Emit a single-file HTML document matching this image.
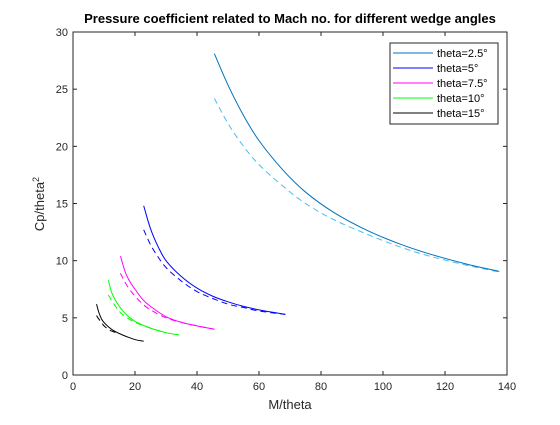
<!DOCTYPE html>
<html><head><meta charset="utf-8"><style>
body{margin:0;background:#fff;}
svg{font-family:"Liberation Sans",Arial,sans-serif;}
</style></head><body>
<svg id="c" width="560" height="420" xmlns="http://www.w3.org/2000/svg">
<rect x="0" y="0" width="560" height="420" fill="#fff"/>
<g id="plot"></g>
</svg>
<script>
const xTicks=[0,20,40,60,80,100,120,140];
const yTicks=[0,5,10,15,20,25,30];
const seriesNames=["theta=2.5°","theta=5°","theta=7.5°","theta=10°","theta=15°"];
const solidX25=[45.6,50,55,60,67.8,75,84,95,105.5,115,127,137.5];
const solidY25=[28.1,25.36,22.7,20.5,17.9,16.0,14.24,12.63,11.45,10.59,9.7,9.06];
const dashX25=[45.6,50,55,60,67.8,75,84,95,105.5,115,127,137.5];
const dashY25=[24.2,22.0,20.0,18.4,16.5,15.0,13.6,12.3,11.2,10.4,9.6,9.0];
const solidX5=[22.8,25,27.5,30,35,40,45,50,55,60,68.5];
const solidY5=[14.8,12.8,11.2,10.0,8.6,7.6,6.9,6.4,6.0,5.7,5.3];
const dashX5=[22.8,25,27.5,30,35,40,45,50,55,60,68.5];
const dashY5=[12.7,11.4,10.3,9.4,8.2,7.3,6.7,6.2,5.9,5.6,5.3];
const solidX75=[15.3,17,18.5,20,22.5,25,30,35,40,45.6];
const solidY75=[10.4,8.9,8.1,7.5,6.6,6.0,5.1,4.6,4.3,4.0];
const dashX75=[15.3,17,18.5,20,22.5,25,30,35,40,45.6];
const dashY75=[8.9,8.0,7.4,6.9,6.2,5.7,5.0,4.6,4.3,4.0];
const solidX10=[11.4,12.5,14,15.5,17.5,20,25,30,34.2];
const solidY10=[8.3,7.2,6.4,5.8,5.2,4.7,4.1,3.7,3.5];
const dashX10=[11.4,12.5,14,15.5,17.5,20,25,30];
const dashY10=[7.0,6.5,5.9,5.4,5.0,4.6,4.1,3.7];
const solidX15=[7.6,8.3,9.2,10,11.5,13,16,20,22.8];
const solidY15=[6.2,5.5,4.9,4.6,4.2,3.9,3.5,3.1,2.95];
const dashX15=[7.6,8.3,9.2,10,12,14];
const dashY15=[5.2,4.9,4.6,4.3,3.9,3.7];
const colors=["#0072BD","#0000FF","#FF00FF","#00FF00","#000000"];
const dashColors=["#4DBEEE","#0000FF","#FF00FF","#00FF00","#000000"];

const L=73,R=507,T=32,B=375;
const sx=v=>L+(v-0)/(140-0)*(R-L);
const sy=v=>B-(v-0)/(30-0)*(B-T);
const NS="http://www.w3.org/2000/svg";
const g=document.getElementById('plot');
function el(t,a,parent){const e=document.createElementNS(NS,t);for(const k in a)e.setAttribute(k,a[k]);(parent||g).appendChild(e);return e;}
function pathD(xs,ys){
  const p=xs.map((x,i)=>[sx(x),sy(ys[i])]);
  let d="M"+p[0][0]+","+p[0][1];
  for(let i=0;i<p.length-1;i++){
    const p0=p[i-1]||p[i],p1=p[i],p2=p[i+1],p3=p[i+2]||p2;
    const d1=Math.hypot(p2[0]-p0[0],p2[1]-p0[1])||1, d2=Math.hypot(p3[0]-p1[0],p3[1]-p1[1])||1;
    const seg=Math.hypot(p2[0]-p1[0],p2[1]-p1[1]);
    const c1=[p1[0]+(p2[0]-p0[0])/d1*seg/3,p1[1]+(p2[1]-p0[1])/d1*seg/3];
    const c2=[p2[0]-(p3[0]-p1[0])/d2*seg/3,p2[1]-(p3[1]-p1[1])/d2*seg/3];
    d+=" C"+c1[0]+","+c1[1]+" "+c2[0]+","+c2[1]+" "+p2[0]+","+p2[1];
  }
  return d;
}
const box=el('rect',{x:L,y:T,width:R-L,height:B-T,fill:'none',stroke:'#262626','stroke-width':1});


xTicks.forEach(v=>{
  const t=el('line',{x1:sx(v),x2:sx(v),y1:B,y2:B-4,stroke:'#262626'});
  
  
  el('line',{x1:sx(v),x2:sx(v),y1:T,y2:T+4,stroke:'#262626'});
  const tx=el('text',{x:sx(v),y:B+15,'text-anchor':'middle','font-size':11,fill:'#262626'});
  tx.textContent=v;
  
  
});
yTicks.forEach(v=>{
  const t=el('line',{x1:L,x2:L+4,y1:sy(v),y2:sy(v),stroke:'#262626'});
  
  
  el('line',{x1:R,x2:R-4,y1:sy(v),y2:sy(v),stroke:'#262626'});
  const tx=el('text',{x:L-5,y:sy(v)+4,'text-anchor':'end','font-size':11,fill:'#262626'});
  tx.textContent=v;
  
  
});
const sets=[[solidX25,solidY25,dashX25,dashY25],[solidX5,solidY5,dashX5,dashY5],[solidX75,solidY75,dashX75,dashY75],[solidX10,solidY10,dashX10,dashY10],[solidX15,solidY15,dashX15,dashY15]];
sets.forEach((s,i)=>{
  const d=el('path',{d:pathD(s[2],s[3]),fill:'none',stroke:dashColors[i],'stroke-width':1,'stroke-dasharray':'6,4'});
  
  
  const p=el('path',{d:pathD(s[0],s[1]),fill:'none',stroke:colors[i],'stroke-width':1});
  
  
});
const ti=el('text',{x:290,y:23,'text-anchor':'middle','font-size':13,'font-weight':'bold',fill:'#000'});
ti.textContent='Pressure coefficient related to Mach no. for different wedge angles';


const xl=el('text',{x:290,y:409,'text-anchor':'middle','font-size':13,fill:'#262626'});
xl.textContent='M/theta';


const yl=el('text',{x:0,y:0,'text-anchor':'middle','font-size':13,fill:'#262626',transform:'translate(44,204) rotate(-90)'});
yl.innerHTML='Cp/theta<tspan dy="-5" font-size="9">2</tspan>';


const lg=el('g',{});


el('rect',{x:390,y:43,width:108,height:81,fill:'#fff',stroke:'#262626'},lg);
seriesNames.forEach((n,i)=>{
  const y=53+i*15;
  const ln=el('line',{x1:393,x2:433,y1:y,y2:y,stroke:colors[i]},lg);
  
  
  const t=el('text',{x:437,y:y+4,'font-size':11,fill:'#000'},lg);
  t.textContent=n;
  
  
});
</script>
</body></html>
